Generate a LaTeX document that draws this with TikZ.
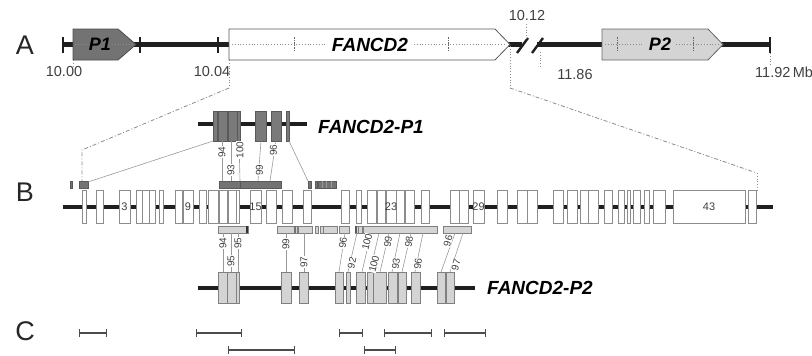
\documentclass[tikz,border=0pt]{standalone}
\usepackage{fontspec}
\setmainfont{Liberation Sans}
\usetikzlibrary{arrows.meta}
\begin{document}
\begin{tikzpicture}[x=1pt,y=-1pt,
  gline/.style={line width=4.5pt, black!88},
  tickA/.style={line width=2.6pt, black!88},
  exonB/.style={draw=black!45, fill=white, line width=0.8pt},
  exonP1/.style={draw=black!65, fill=black!52, line width=0.8pt},
  exonP2/.style={draw=black!50, fill=black!17, line width=0.8pt},
  trkP1/.style={draw=black!65, fill=black!55, line width=0.6pt},
  trkP2/.style={draw=black!50, fill=black!17, line width=0.6pt},
  conn/.style={draw=black!40, line width=0.6pt},
  num/.style={font=\fontsize{14.5}{15}\selectfont, text=black!75, inner sep=0pt},
  lab/.style={font=\fontsize{10}{10}\selectfont, text=black!75, rotate=90, inner sep=0.3pt, fill=white},
  exnum/.style={font=\fontsize{11}{11}\selectfont, text=black!75, inner sep=0pt},
  gname/.style={font=\bfseries\itshape\fontsize{19}{19}\selectfont, inner sep=0pt},
  panel/.style={font=\fontsize{27}{27}\selectfont, text=black!85, inner sep=0pt},
  dd/.style={draw=black!45, line width=0.8pt, dash pattern=on 4pt off 2pt on 1pt off 2pt},
  dotl/.style={draw=black!45, line width=0.8pt, dotted},
  vtick/.style={draw=black!60, line width=0.8pt, dash pattern=on 1.5pt off 1pt},
  cbar/.style={line width=1.4pt, black!70, {Bar[width=8pt,line width=1.4pt]}-{Bar[width=8pt,line width=1.4pt]}}
]
\useasboundingbox (0,0) rectangle (812,356);

% ---------------- panel labels
\node[panel] (pA) at (25,45) {A};
\node[panel] (pB) at (25,192) {B};
\node[panel] (pC) at (25,331) {C};

% ---------------- A
\draw[gline] (63,44.5) -- (522,44.5);
\draw[gline] (537,44.5) -- (770,44.5);
\draw[tickA] (63,37) -- (63,53);
\draw[tickA] (140,37) -- (140,53);
\draw[tickA] (218,37) -- (218,53);
\draw[tickA] (770,37) -- (770,53);
\draw[line width=2.4pt, black!88] (517,53) -- (528,38);
\draw[line width=2.4pt, black!88] (532,53) -- (543,38);

% P1
\draw[draw=black!70, fill=black!55, line width=0.8pt] (73,29) -- (118,29) -- (136,44.5) -- (118,60) -- (73,60) -- cycle;
\draw[dotl] (75,44.5) -- (87,44.5) (112,44.5) -- (132,44.5);
\node[gname, font=\bfseries\itshape\fontsize{18}{18}\selectfont] (P1) at (100,44.5) {P1};
% FANCD2
\draw[draw=black!65, fill=white, line width=0.8pt] (229,29) -- (495,29) -- (510,44.5) -- (495,60) -- (229,60) -- cycle;
\draw[dotl] (232,44.5) -- (327,44.5) (414,44.5) -- (505,44.5);
\draw[vtick] (294,37) -- (294,52);
\draw[vtick] (448,37) -- (448,52);
\node[gname] (FD) at (370,44.5) {FANCD2};
% P2
\draw[draw=black!60, fill=black!17, line width=0.8pt] (602,29) -- (708,29) -- (723,44.5) -- (708,60) -- (602,60) -- cycle;
\draw[dotl] (605,44.5) -- (644,44.5) (676,44.5) -- (719,44.5);
\draw[vtick] (617,37) -- (617,52);
\draw[vtick] (693,37) -- (693,52);
\node[gname, font=\bfseries\itshape\fontsize{18}{18}\selectfont] (P2) at (660,44.5) {P2};

% scale labels
\node[num] (n1) at (64,72) {10.00};
\node[num] (n2) at (212,72) {10.04};
\node[num] (n3) at (527,16) {10.12};
\node[num] (n4) at (575,75) {11.86};
\node[num, anchor=west] (n5) at (755,72) {11.92\,Mb};
\draw[dotl] (73,60) -- (73,66);
\draw[dotl] (526,24) -- (526,40);
\draw[dotl] (540,52) -- (540,67);
\draw[dotl] (770,53) -- (770,65);

% zoom lines
\coordinate (zl1) at (229,60);
\coordinate (zl2) at (229,88);
\coordinate (zl3) at (82,150);
\coordinate (zl4) at (82,181);
\draw[dotl] (zl1) -- (zl2);
\draw[dd] (zl2) -- (zl3) -- (zl4);
\coordinate (zr1) at (510,46);
\coordinate (zr2) at (510,88);
\coordinate (zr3) at (757,173);
\coordinate (zr4) at (757,190);
\draw[dotl] (zr1) -- (zr2);
\draw[dd] (zr2) -- (zr3);
\draw[dotl] (zr3) -- (zr4);

% ---------------- B : full gene
\draw[gline] (63,207) -- (773,207);
\foreach \a/\b in {82/86,96/103,119/130,136/142,142/149,149/155,159/163,175/182,183/193,199/206,208/218,219/227,228/236,236/239,250/261,266/276,282/292,303/311,341/349,356/361,367/376,377/385,386/396,396/404,405/414,421/429,450/459,459/468,473/484,497/507,517/527,527/537,553/563,567/577,580/588,588/598,604/612,618/624,627/630,633/640,644/649,653/665,673/745,748/756}
  \draw[exonB] (\a,190) rectangle (\b,223);
\node[exnum] (e3) at (124.5,207) {3};
\node[exnum] (e9) at (188,207) {9};
\node[exnum] (e15) at (255.5,207) {15};
\node[exnum] (e23) at (391,207) {23};
\node[exnum] (e29) at (478.5,207) {29};
\node[exnum] (e43) at (709,207) {43};

% P1 tracks
\draw[trkP1] (70,181) rectangle (72.5,188);
\draw[trkP1] (79,181) rectangle (88,188);
\draw[trkP1] (219,181) rectangle (240,188);
\draw[trkP1] (240,181) rectangle (281,188);
\draw[trkP1] (308,181) rectangle (311,188);
\draw[trkP1] (315,181) rectangle (317,188);
\draw[trkP1] (318,181) rectangle (336,188);
\draw[draw=black!40, line width=0.5pt] (322,181) -- (322,188) (326,181) -- (326,188) (331,181) -- (331,188);

% P2 tracks
\draw[trkP2] (218,226) rectangle (248,233);
\fill[black!80] (245.5,226) rectangle (248,233);
\draw[trkP2] (277,226) rectangle (297,233);
\fill[black!55] (294,226) rectangle (296,233);
\draw[trkP2] (298,226) rectangle (312,233);
\draw[trkP2] (315,226) rectangle (318,233);
\draw[trkP2] (320,226) rectangle (323,233);
\draw[trkP2] (323,226) rectangle (337,233);
\draw[trkP2] (339,226) rectangle (349,233);
\draw[trkP2] (355,226) rectangle (358,233);
\fill[black!65] (355,226) rectangle (356.5,233);
\draw[trkP2] (358,226) rectangle (362,233);
\draw[trkP2] (363,226) rectangle (437,233);
\draw[trkP2] (443,226) rectangle (471,233);

% ---------------- P1 transcript
\draw[gline] (198,124) -- (307,124);
\foreach \a/\b in {213/217,218/227,228/237,237/240,255/266,271/281,286/289}
  \draw[exonP1] (\a,111) rectangle (\b,141);
\node[gname, anchor=west] (gP1) at (318,127) {FANCD2-P1};

% P1 connectors
\draw[conn] (213,141) -- (88,182);
\draw[conn] (289,141) -- (308,181);
\draw[conn] (222,141) -- (222,181);
\draw[conn] (231,141) -- (231,181);
\draw[conn] (239,141) -- (240,181);
\draw[conn] (261,141) -- (258,181);
\draw[conn] (276,141) -- (270,181);
\node[lab] at (222,152) {94};
\node[lab] at (231,170) {93};
\node[lab] at (240,150) {100};
\node[lab] at (259.5,170) {99};
\node[lab] at (273.5,150) {96};

% ---------------- P2 transcript
\draw[gline] (198,288) -- (475,288);
\foreach \a/\b in {218/227,227/236,236/239,281/291,299/308,335/343,346/350,356/365,367/373,373/386,388/397,398/406,411/420,437/445,446/454}
  \draw[exonP2] (\a,272) rectangle (\b,303);
\node[gname, anchor=west] (gP2) at (487,288) {FANCD2-P2};

% P2 connectors
\draw[conn] (223,233) -- (223,272);
\draw[conn] (231,233) -- (231,272);
\draw[conn] (238,233) -- (238,272);
\draw[conn] (286,233) -- (286,272);
\draw[conn] (304,233) -- (304,272);
\draw[conn] (345,233) -- (339,272);
\draw[conn] (357,233) -- (348,272);
\draw[conn] (371,233) -- (362,272);
\draw[conn] (379,233) -- (370,272);
\draw[conn] (389,233) -- (380,272);
\draw[conn] (400,233) -- (392,272);
\draw[conn] (411,233) -- (402,272);
\draw[conn] (423,233) -- (415,272);
\draw[conn] (455,233) -- (441,272);
\draw[conn] (463,233) -- (450,272);
\node[lab] at (223,243) {94};
\node[lab] at (238,243) {95};
\node[lab] at (231,261) {95};
\node[lab] at (286,244) {99};
\node[lab] at (304,262) {97};
\node[lab, rotate=-8] at (343,243) {96};
\node[lab, rotate=-12] at (352,263) {92};
\node[lab, rotate=-14] at (367,242) {100};
\node[lab, rotate=-14] at (374,264) {100};
\node[lab, rotate=-8] at (388,242) {99};
\node[lab, rotate=-8] at (396,264) {93};
\node[lab, rotate=-8] at (409,242) {98};
\node[lab, rotate=-8] at (418,264) {96};
\node[lab, rotate=-15] at (448,241) {96};
\node[lab, rotate=-15] at (456,265) {97};

% ---------------- C
\foreach \a/\b/\y in {79/107/333,196/242/333,339/363/333,384/432/333,444/486/333,228/295/350,364/396/350}
  \draw[cbar] (\a,\y) -- (\b,\y);
\end{tikzpicture}
\end{document}
